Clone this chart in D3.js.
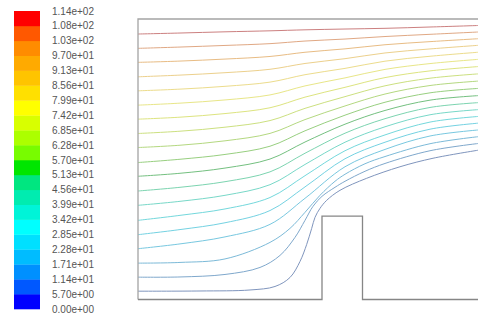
<!DOCTYPE html>
<html>
<head>
<meta charset="utf-8">
<script src="https://cdn.jsdelivr.net/npm/d3@7"></script>
<style>
  html, body { margin: 0; padding: 0; background: #fff; }
  svg { display: block; }
</style>
</head>
<body>
<div id="chart"></div>
<script>
// ---- Data ----
const legendValues = [0, 5.7, 11.4, 17.1, 22.8, 28.5, 34.2, 39.9, 45.6, 51.3, 57, 62.7, 68.4, 74.1, 79.8, 85.5, 91.2, 96.9, 102.6, 108.3, 114];
const legendLabels = ["0.00e+00", "5.70e+00", "1.14e+01", "1.71e+01", "2.28e+01", "2.85e+01", "3.42e+01", "3.99e+01", "4.56e+01", "5.13e+01", "5.70e+01", "6.28e+01", "6.85e+01", "7.42e+01", "7.99e+01", "8.56e+01", "9.13e+01", "9.70e+01", "1.03e+02", "1.08e+02", "1.14e+02"];
// band colours, from the lowest band (0 - 5.7) to the highest (108.3 - 114)
const bandColors = ["#0000ff", "#0058ff", "#0090ff", "#00bcff", "#00e0ff", "#00ffff", "#00f4d8", "#00ecb0", "#00e680", "#00e600", "#78fc00", "#acff00", "#d8ff00", "#ffff00", "#ffe000", "#ffc400", "#ffaa00", "#ff8c00", "#ff5800", "#ff0000"];

// stream-function levels drawn as contour lines
const levels = [5.7, 11.4, 17.1, 22.8, 28.5, 34.2, 39.9, 45.6, 51.3, 57, 62.7, 68.4, 74.1, 79.8, 85.5, 91.2, 96.9, 102.6, 108.3];
const lineColors = ["#7f95bd", "#7fa8cc", "#7cbad8", "#78c8e0", "#74d2e2", "#74d8dc", "#78d8c8", "#7cd4b0", "#74c080", "#98cf80", "#b4d880", "#cce080", "#dde480", "#e8e688", "#ecdc8c", "#ecd08c", "#e8bc84", "#e0a884", "#cc8080"];

// streamline points [x, y] in domain units (x: 0..340 along the channel, y: 0..280 above the floor), lowest level first
const streamPoints = [
  [[0,8.3],[62,8.5],[112,9.5],[137,13],[152,22],[162,38],[168.7,55],[173.7,71],[177,82],[182,91],[188.7,99],[202,109],[228.7,121],[262,132.5],[295,141],[340,149]],
  [[0,22.3],[42,22.5],[87,25],[122,32],[142,44],[157,62],[167,79],[175,93],[184,103],[197,112],[207,118],[227,128],[247,135.8],[292,148.5],[340,155.7]],
  [[0,36.3],[42,37],[87,40.5],[132,57],[152,71],[167,87],[182,104],[197,118],[207,125],[227,135.5],[247,142.7],[292,155.5],[340,162.5]],
  [[0,50.7],[42,55.5],[87,62.5],[132,75],[167,101],[207,132.5],[247,149.8],[292,163.2],[340,169.2]],
  [[0,64.7],[42,69.8],[87,76.6],[132,88.8],[167,112.4],[207,140.5],[247,157],[292,170],[340,176]],
  [[0,79],[42,84],[87,90.4],[132,101.8],[167,123.6],[207,148.5],[247,164.3],[292,177.1],[340,182.7]],
  [[0,94],[42,98],[87,104],[132,114.6],[167,134.8],[207,157],[247,172.4],[292,184.4],[340,189.5]],
  [[0,108.3],[42,112],[87,117.6],[132,127.4],[167,146],[207,166],[247,180.5],[292,191.7],[340,196.5]],
  [[0,123],[42,126],[87,131.2],[132,140.2],[167,157.2],[207,175],[247,188.7],[292,199],[340,203.5]],
  [[0,136.7],[42,140],[87,144.8],[132,153],[167,168.4],[207,184],[247,196.9],[292,206.3],[340,210.7]],
  [[0,151.7],[42,154],[87,158.4],[132,165.8],[167,179.6],[207,193.2],[247,205.1],[292,213.6],[340,218]],
  [[0,165.7],[42,168],[87,172],[132,178.6],[167,190.8],[207,202.5],[247,213.3],[292,220.9],[340,225.2]],
  [[0,180],[42,182],[87,185.6],[132,191.4],[167,202],[207,211.8],[247,221.5],[292,228.2],[340,232.5]],
  [[0,194],[42,196],[87,199.2],[132,204.2],[167,213.2],[207,221.2],[247,229.7],[292,235.5],[340,239.7]],
  [[0,208.3],[42,210],[87,212.8],[132,217],[167,224.4],[207,230.7],[247,237.9],[292,242.8],[340,246.8]],
  [[0,222.3],[42,224],[87,226.4],[132,229.8],[167,235.6],[207,240.4],[247,246.1],[292,250.1],[340,253.7]],
  [[0,236.7],[42,238],[87,240],[132,242.6],[167,246.8],[207,250.2],[247,254.3],[292,257.4],[340,260.3]],
  [[0,250.7],[42,252],[87,253.6],[132,255.4],[167,258],[207,260],[247,262.5],[292,264.7],[340,267]],
  [[0,265],[42,266],[87,267.2],[132,268.2],[167,269.2],[207,270],[247,270.7],[292,272],[340,273.5]]
];

// domain walls: top wall + inlet side, and the floor with the rectangular block
const topWall = [[340,280],[0,280],[0,0]];
const floorWall = [[0,0],[184,0],[184,83.3],[224.5,83.3],[224.5,0],[340,0]];

// ---- Drawing ----
const W = 478, H = 318;
const svg = d3.select("#chart").append("svg").attr("width", W).attr("height", H);

const x = d3.scaleLinear().domain([0, 340]).range([138, 478]);
const y = d3.scaleLinear().domain([0, 280]).range([299.5, 19]);

// legend
const ly = d3.scaleLinear().domain([0, 114]).range([309, 11]);
const legend = svg.append("g");
legend.selectAll("rect").data(bandColors).join("rect")
  .attr("x", 14).attr("width", 26)
  .attr("y", (d, i) => ly(legendValues[i + 1]))
  .attr("height", (d, i) => ly(legendValues[i]) - ly(legendValues[i + 1]) + 0.3)
  .attr("fill", d => d);
legend.selectAll("text").data(legendLabels).join("text")
  .attr("x", 52)
  .attr("y", (d, i) => ly(legendValues[i]))
  .attr("dy", "0.35em")
  .attr("font-family", "'Liberation Sans', Arial, sans-serif")
  .attr("font-size", 10)
  .attr("fill", "#555")
  .text(d => d);

// streamlines
const line = d3.line().x(d => x(d[0])).y(d => y(d[1])).curve(d3.curveCatmullRom.alpha(0.5));
svg.append("g").selectAll("path").data(streamPoints).join("path")
  .attr("d", d => line(d))
  .attr("fill", "none")
  .attr("stroke", (d, i) => lineColors[i])
  .attr("stroke-width", 1);

// walls
const wall = d3.line().x(d => x(d[0])).y(d => y(d[1]));
svg.append("path").attr("d", wall(topWall))
  .attr("fill", "none").attr("stroke", "#a4a4a4").attr("stroke-width", 1.3);
svg.append("path").attr("d", wall(floorWall))
  .attr("fill", "none").attr("stroke", "#868686").attr("stroke-width", 1.3);
</script>
</body>
</html>
